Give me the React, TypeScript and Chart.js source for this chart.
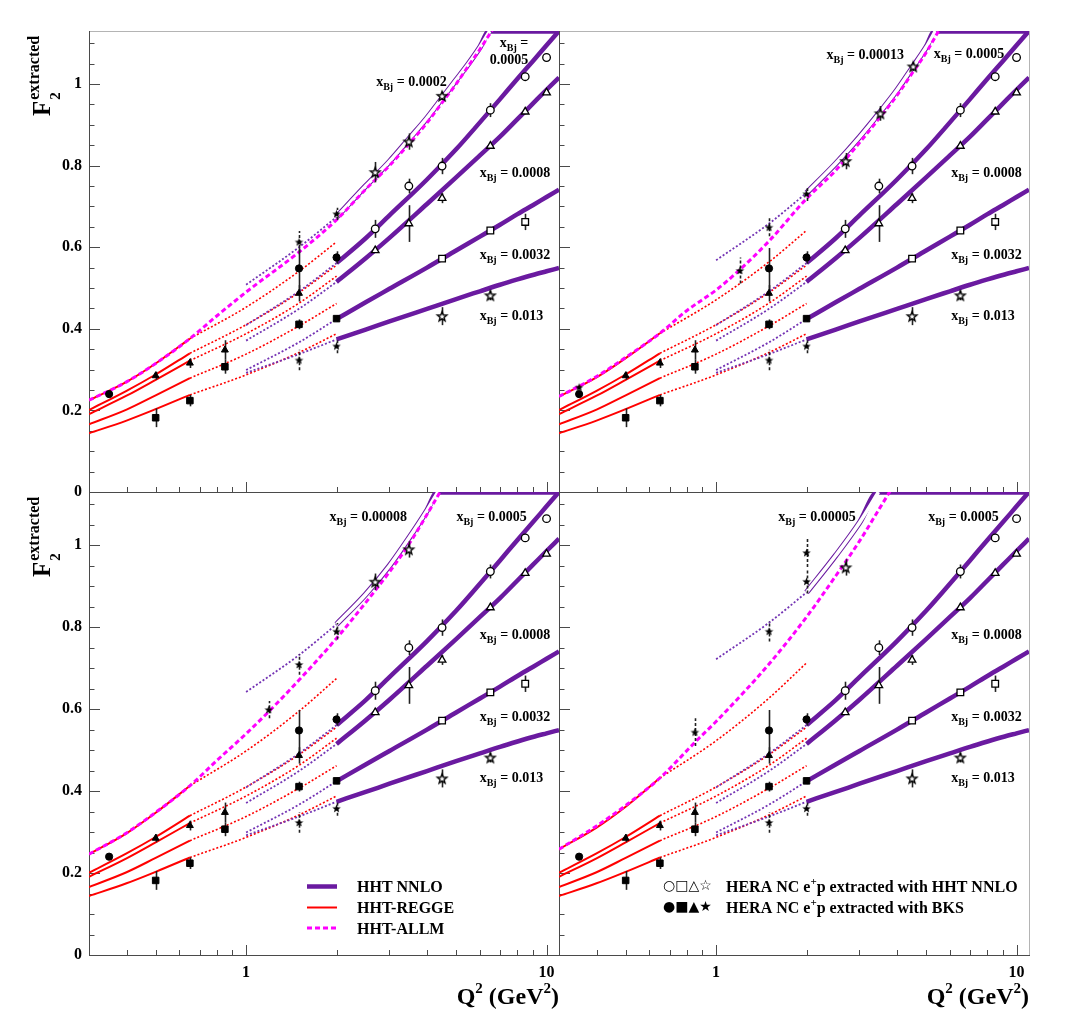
import React, { useEffect, useRef } from 'react';
import { Chart, registerables } from 'chart.js';

Chart.register(...registerables);

/* ---------------- axes ---------------- */
const X_MIN = 0.3;
const X_MAX = 11;
const Y_MIN = 0;
const Y_MAX = 1.13;
const X_MAJOR = [1, 10];
const X_LABELS = ['1', '10'];
const X_MINOR = [0.3, 0.4, 0.5, 0.6, 0.7, 0.8, 0.9, 2, 3, 4, 5, 6, 7, 8, 9];
const Y_MAJOR = [0, 0.2, 0.4, 0.6, 0.8, 1];
const Y_LABELS = ['0', '0.2', '0.4', '0.6', '0.8', '1'];
const Y_MINOR = [0.05, 0.1, 0.15, 0.25, 0.3, 0.35, 0.45, 0.5, 0.55, 0.65, 0.7, 0.75, 0.85, 0.9, 0.95, 1.05, 1.1];

/* ---------------- common curves ---------------- */
// HHT NNLO (solid, Q^2 >= 2)
const Q_NNLO = [2, 2.5, 3, 4, 5, 6, 7, 8, 9, 10, 11];
const NNLO_X0005 = [0.561, 0.622, 0.678, 0.766, 0.84, 0.906, 0.963, 1.013, 1.056, 1.095, 1.13];
const NNLO_X0008 = [0.515, 0.573, 0.623, 0.706, 0.771, 0.825, 0.871, 0.914, 0.952, 0.986, 1.016];
const NNLO_X0032 = [0.424, 0.465, 0.498, 0.55, 0.592, 0.626, 0.655, 0.681, 0.703, 0.723, 0.741];
const NNLO_X013 = [0.374, 0.398, 0.418, 0.449, 0.473, 0.492, 0.508, 0.521, 0.532, 0.541, 0.549];
// HHT NNLO dotted extension (1 <= Q^2 <= 2)
const Q_NNLO_EXT = [1, 1.5, 2];
const NNLO_EXT_X0005 = [0.409, 0.492, 0.561];
const NNLO_EXT_X0008 = [0.371, 0.449, 0.515];
const NNLO_EXT_X0032 = [0.299, 0.367, 0.424];
const NNLO_EXT_X013 = [0.292, 0.338, 0.374];
// HHT-REGGE solid (Q^2 <= 0.65) and dotted extension
const Q_REGGE = [0.3, 0.4, 0.5, 0.65];
const REGGE_2 = [0.201, 0.248, 0.288, 0.34];
const REGGE_3 = [0.191, 0.236, 0.275, 0.322];
const REGGE_4 = [0.166, 0.202, 0.237, 0.279];
const REGGE_5 = [0.144, 0.175, 0.203, 0.238];
const Q_REGGE_EXT = [0.65, 1, 1.5, 2];
const REGGE_EXT_2 = [0.34, 0.41, 0.489, 0.556];
const REGGE_EXT_3 = [0.322, 0.388, 0.463, 0.529];
const REGGE_EXT_4 = [0.279, 0.338, 0.407, 0.462];
const REGGE_EXT_5 = [0.238, 0.287, 0.342, 0.388];

/* ---------------- common points ---------------- */
// BKS-extracted (filled)
const Q_BKS_CIRCLE = [0.35, 1.5, 2];
const F_BKS_CIRCLE = [0.24, 0.548, 0.575];
const E_BKS_CIRCLE = [0.004, 0.05, 0.015];
const Q_BKS_TRI = [0.5, 0.65, 0.85, 1.5];
const F_BKS_TRI = [0.285, 0.316, 0.348, 0.487];
const E_BKS_TRI = [0.01, 0.012, 0.024, 0.02];
const Q_BKS_SQ = [0.5, 0.65, 0.85, 1.5, 2];
const F_BKS_SQ = [0.182, 0.224, 0.307, 0.411, 0.425];
const E_BKS_SQ = [0.023, 0.014, 0.017, 0.012, 0.008];
const Q_BKS_STAR = [1.5, 2];
const F_BKS_STAR = [0.3235, 0.358];
const E_BKS_STAR = [0.025, 0.018];
// HHT NNLO-extracted (open)
const Q_NN_CIRCLE = [2.69, 3.48, 4.49, 6.5, 8.49, 10];
const F_NN_CIRCLE = [0.645, 0.75, 0.799, 0.936, 1.018, 1.065];
const E_NN_CIRCLE = [0.022, 0.018, 0.02, 0.017, 0.006, 0.006];
const Q_NN_TRI = [2.69, 3.48, 4.49, 6.5, 8.49, 10];
const F_NN_TRI = [0.592, 0.658, 0.72, 0.848, 0.932, 0.979];
const E_NN_TRI = [0.006, 0.045, 0.012, 0.006, 0.006, 0.006];
const Q_NN_SQ = [4.49, 6.5, 8.49];
const F_NN_SQ = [0.572, 0.641, 0.662];
const E_NN_SQ = [0.006, 0.006, 0.02];
const Q_NN_STAR = [4.49, 6.5];
const F_NN_STAR = [0.431, 0.482];
const E_NN_STAR = [0.022, 0.012];

/* ---------------- panel-specific (smallest x_Bj) ---------------- */
// top-left: x_Bj = 0.0002
const REGGE_1_TL = [0.225, 0.27, 0.315, 0.376];
const REGGE_EXT_1_TL = [0.376, 0.453, 0.541, 0.613];
const Q_ALLM_TL = [0.3, 0.4, 0.5, 0.65, 0.8, 1, 1.5, 2, 2.5, 3, 3.5, 4, 4.5, 5, 5.5, 6, 6.5, 7];
const ALLM_TL = [0.225, 0.27, 0.315, 0.376, 0.432, 0.49, 0.588, 0.667, 0.742, 0.8, 0.855, 0.905, 0.955, 1.0, 1.045, 1.085, 1.125, 1.16];
const Q_LOWX_TL = [2, 2.5, 3, 3.5, 4, 4.5, 5, 5.5, 6, 6.47, 11];
const NNLO_LOWX_TL = [0.674, 0.75, 0.81, 0.867, 0.917, 0.966, 1.01, 1.05, 1.09, 1.13, 1.13];
const NNLO_EXT_LOWX_TL = [0.508, 0.6, 0.674];
const Q_STAR_BKS_TL = [1.5, 2];
const F_STAR_BKS_TL = [0.613, 0.682];
const E_STAR_BKS_TL = [0.027, 0.015];
const Q_STAR_NN_TL = [2.69, 3.48, 4.49];
const F_STAR_NN_TL = [0.784, 0.859, 0.971];
const E_STAR_NN_TL = [0.025, 0.02, 0.01];

// top-right: x_Bj = 0.00013
const REGGE_1_TR = [0.234, 0.281, 0.328, 0.389];
const REGGE_EXT_1_TR = [0.389, 0.471, 0.564, 0.641];
const Q_ALLM_TR = [0.3, 0.4, 0.5, 0.65, 0.8, 1, 1.2, 1.5, 2, 2.5, 3, 3.5, 4, 4.5, 5, 5.5, 6];
const ALLM_TR = [0.234, 0.283, 0.33, 0.389, 0.445, 0.495, 0.545, 0.615, 0.719, 0.788, 0.856, 0.917, 0.972, 1.027, 1.077, 1.13, 1.18];
const Q_LOWX_TR = [2, 2.5, 3, 3.5, 4, 4.5, 5, 5.37, 11];
const NNLO_LOWX_TR = [0.733, 0.805, 0.87, 0.93, 0.985, 1.04, 1.09, 1.13, 1.13];
const NNLO_EXT_LOWX_TR = [0.568, 0.658, 0.733];
const Q_STAR_BKS_TR = [0.35, 1.2, 1.5, 2];
const F_STAR_BKS_TR = [0.257, 0.543, 0.649, 0.731];
const E_STAR_BKS_TR = [0.005, 0.032, 0.022, 0.018];
const Q_STAR_NN_TR = [2.7, 3.52, 4.53];
const F_STAR_NN_TR = [0.811, 0.928, 1.043];
const E_STAR_NN_TR = [0.02, 0.018, 0.01];

// bottom-left: x_Bj = 0.00008
const REGGE_1_BL = [0.246, 0.297, 0.347, 0.413];
const REGGE_EXT_1_BL = [0.413, 0.498, 0.595, 0.675];
const Q_ALLM_BL = [0.3, 0.4, 0.5, 0.65, 0.8, 1, 1.25, 1.5, 2, 2.5, 3, 3.5, 4, 4.5];
const ALLM_BL = [0.246, 0.298, 0.348, 0.413, 0.475, 0.54, 0.61, 0.671, 0.773, 0.86, 0.935, 1.005, 1.075, 1.14];
const Q_LOWX_BL = [2, 2.5, 3, 3.5, 4, 4.35, 11];
const NNLO_LOWX_BL = [0.807, 0.88, 0.95, 1.02, 1.085, 1.13, 1.13];
const NNLO_EXT_LOWX_BL = [0.642, 0.732, 0.807];
const Q_STAR_BKS_BL = [1.19, 1.5, 2];
const F_STAR_BKS_BL = [0.599, 0.709, 0.79];
const E_STAR_BKS_BL = [0.021, 0.025, 0.02];
const Q_STAR_NN_BL = [2.69, 3.48];
const F_STAR_NN_BL = [0.911, 0.99];
const E_STAR_NN_BL = [0.02, 0.02];

// bottom-right: x_Bj = 0.00005
const REGGE_1_BR = [0.258, 0.311, 0.362, 0.432];
const REGGE_EXT_1_BR = [0.432, 0.523, 0.627, 0.713];
const Q_ALLM_BR = [0.3, 0.4, 0.5, 0.65, 0.85, 1, 1.25, 1.5, 2, 2.5, 3, 3.5, 4];
const ALLM_BR = [0.258, 0.315, 0.365, 0.432, 0.519, 0.57, 0.645, 0.71, 0.825, 0.925, 1.01, 1.09, 1.16];
const Q_LOWX_BR = [2, 2.5, 3, 3.47, 11];
const NNLO_LOWX_BR = [0.885, 0.975, 1.055, 1.13, 1.13];
const NNLO_EXT_LOWX_BR = [0.722, 0.811, 0.885];
const Q_STAR_BKS_BR = [0.85, 1.5, 2, 2];
const F_STAR_BKS_BR = [0.544, 0.79, 0.912, 0.982];
const E_STAR_BKS_BR = [0.034, 0.025, 0.03, 0.035];
const Q_STAR_NN_BR = [2.7];
const F_STAR_NN_BR = [0.946];
const E_STAR_NN_BR = [0.02];

/* ---------------- annotations (text) ---------------- */
const LABELS_TL = [
  { q: 2.71, f: 1.008, value: '0.0002' },
  { q: 6.99, f: 1.102, value: '' },
  { q: 6.47, f: 1.061, plain: '0.0005' },
  { q: 5.99, f: 0.784, value: '0.0008' },
  { q: 5.99, f: 0.584, value: '0.0032' },
  { q: 5.99, f: 0.435, value: '0.013' },
];
const LABELS_TR = [
  { q: 2.33, f: 1.073, value: '0.00013' },
  { q: 5.3, f: 1.076, value: '0.0005' },
  { q: 6.06, f: 0.784, value: '0.0008' },
  { q: 6.06, f: 0.584, value: '0.0032' },
  { q: 6.06, f: 0.435, value: '0.013' },
];
const LABELS_BL = [
  { q: 1.896, f: 1.071, value: '0.00008' },
  { q: 5.01, f: 1.071, value: '0.0005' },
  { q: 5.99, f: 0.784, value: '0.0008' },
  { q: 5.99, f: 0.584, value: '0.0032' },
  { q: 5.99, f: 0.435, value: '0.013' },
];
const LABELS_BR = [
  { q: 1.61, f: 1.071, value: '0.00005' },
  { q: 5.08, f: 1.071, value: '0.0005' },
  { q: 6.06, f: 0.784, value: '0.0008' },
  { q: 6.06, f: 0.584, value: '0.0032' },
  { q: 6.06, f: 0.435, value: '0.013' },
];

const LEGEND_LINES = ['HHT NNLO', 'HHT-REGGE', 'HHT-ALLM'];
const LEGEND_OPEN_SYMBOLS = '○□△☆';
const LEGEND_FILLED_SYMBOLS = '●■▲★';
const LEGEND_MARKER_TEXT = ['p extracted with HHT NNLO', 'p extracted with BKS'];

/* ---------------- styling / layout ---------------- */
const PAGE_W = 1078;
const PAGE_H = 1022;
const SERIF = '"Liberation Serif", "Times New Roman", serif';
const SYMBOL_FONT = '"DejaVu Sans", sans-serif';
const PURPLE = '#6a1aa0';
const PURPLE_DOT = '#7434b4';
const RED = '#ff0000';
const MAGENTA = '#ff00ff';
const AXIS_COLOR = '#4a4a4a';
const FRAME_COLOR = '#b4b4b4';

const PANELS = [
  {
    box: { left: 89, top: 31, right: 559, bottom: 492 }, showX: false, showY: true, frameTop: true, frameRight: false, legend: null,
    regge1: REGGE_1_TL, reggeExt1: REGGE_EXT_1_TL, allmQ: Q_ALLM_TL, allm: ALLM_TL, lowQ: Q_LOWX_TL, low: NNLO_LOWX_TL, lowExt: NNLO_EXT_LOWX_TL,
    sbQ: Q_STAR_BKS_TL, sbF: F_STAR_BKS_TL, sbE: E_STAR_BKS_TL, snQ: Q_STAR_NN_TL, snF: F_STAR_NN_TL, snE: E_STAR_NN_TL, labels: LABELS_TL,
  },
  {
    box: { left: 559, top: 31, right: 1029, bottom: 492 }, showX: false, showY: false, frameTop: true, frameRight: true, legend: null,
    regge1: REGGE_1_TR, reggeExt1: REGGE_EXT_1_TR, allmQ: Q_ALLM_TR, allm: ALLM_TR, lowQ: Q_LOWX_TR, low: NNLO_LOWX_TR, lowExt: NNLO_EXT_LOWX_TR,
    sbQ: Q_STAR_BKS_TR, sbF: F_STAR_BKS_TR, sbE: E_STAR_BKS_TR, snQ: Q_STAR_NN_TR, snF: F_STAR_NN_TR, snE: E_STAR_NN_TR, labels: LABELS_TR,
  },
  {
    box: { left: 89, top: 492, right: 559, bottom: 955 }, showX: true, showY: true, frameTop: false, frameRight: false, legend: 'lines',
    regge1: REGGE_1_BL, reggeExt1: REGGE_EXT_1_BL, allmQ: Q_ALLM_BL, allm: ALLM_BL, lowQ: Q_LOWX_BL, low: NNLO_LOWX_BL, lowExt: NNLO_EXT_LOWX_BL,
    sbQ: Q_STAR_BKS_BL, sbF: F_STAR_BKS_BL, sbE: E_STAR_BKS_BL, snQ: Q_STAR_NN_BL, snF: F_STAR_NN_BL, snE: E_STAR_NN_BL, labels: LABELS_BL,
  },
  {
    box: { left: 559, top: 492, right: 1029, bottom: 955 }, showX: true, showY: false, frameTop: false, frameRight: true, legend: 'markers',
    regge1: REGGE_1_BR, reggeExt1: REGGE_EXT_1_BR, allmQ: Q_ALLM_BR, allm: ALLM_BR, lowQ: Q_LOWX_BR, low: NNLO_LOWX_BR, lowExt: NNLO_EXT_LOWX_BR,
    sbQ: Q_STAR_BKS_BR, sbF: F_STAR_BKS_BR, sbE: E_STAR_BKS_BR, snQ: Q_STAR_NN_BR, snF: F_STAR_NN_BR, snE: E_STAR_NN_BR, labels: LABELS_BR,
  },
];

/* ---------------- helpers ---------------- */
function makeStar(outer: number, filled: boolean) {
  const size = Math.ceil(outer * 2 + 4);
  const c = document.createElement('canvas');
  c.width = size;
  c.height = size;
  const g = c.getContext('2d') as CanvasRenderingContext2D;
  const cx = size / 2;
  const cy = size / 2 + outer * 0.1;
  const inner = outer * 0.42;
  g.beginPath();
  for (let k = 0; k < 10; k++) {
    const r = k % 2 === 0 ? outer : inner;
    const a = -Math.PI / 2 + (k * Math.PI) / 5;
    const px = cx + r * Math.cos(a);
    const py = cy + r * Math.sin(a);
    if (k === 0) g.moveTo(px, py);
    else g.lineTo(px, py);
  }
  g.closePath();
  if (filled) {
    g.fillStyle = '#000';
    g.fill();
  } else {
    g.fillStyle = '#fff';
    g.fill();
    g.strokeStyle = '#000';
    g.lineJoin = 'miter';
    g.lineWidth = 1.4;
    g.stroke();
  }
  return c;
}

function curve(qs: number[], fs: number[], color: string, width: number, dash: number[], order: number) {
  return {
    data: qs.map((q, i) => ({ x: q, y: fs[i] })),
    borderColor: color,
    backgroundColor: color,
    borderWidth: width,
    borderDash: dash,
    borderCapStyle: 'butt',
    pointRadius: 0,
    pointHoverRadius: 0,
    fill: false,
    tension: 0.4,
    cubicInterpolationMode: 'monotone',
    order,
  };
}

function pts(qs: number[], fs: number[], es: number[], style: any, radius: number, open: boolean, errDash: number[] = []) {
  return {
    data: qs.map((q, i) => ({ x: q, y: fs[i] })),
    errors: es,
    errorDash: errDash,
    showLine: false,
    pointStyle: style,
    pointRadius: radius,
    pointHoverRadius: radius,
    pointBackgroundColor: open ? '#fff' : '#000',
    pointBorderColor: '#000',
    pointBorderWidth: open ? 1.3 : 1,
    borderColor: '#000',
    backgroundColor: '#000',
    order: 0,
  };
}

function drawParts(ctx: CanvasRenderingContext2D, x: number, y: number, parts: any[], align: string) {
  const widths = parts.map((p) => {
    ctx.font = `bold ${p.s}px ${SERIF}`;
    return ctx.measureText(p.t).width;
  });
  const total = widths.reduce((a, b) => a + b, 0);
  let cx = align === 'right' ? x - total : x;
  ctx.textAlign = 'left';
  parts.forEach((p, i) => {
    ctx.font = `bold ${p.s}px ${SERIF}`;
    ctx.fillText(p.t, cx, y + (p.dy || 0));
    cx += widths[i];
  });
}

function hline(ctx: CanvasRenderingContext2D, x0: number, y0: number, x1: number, y1: number) {
  ctx.beginPath();
  ctx.moveTo(x0, y0);
  ctx.lineTo(x1, y1);
  ctx.stroke();
}

const framePlugin = {
  id: 'frame',
  beforeDatasetsDraw(chart: any, _args: any, opts: any) {
    const { ctx, chartArea: a } = chart;
    const xs = chart.scales.x;
    const ys = chart.scales.y;
    ctx.save();
    ctx.lineWidth = 1;
    ctx.strokeStyle = FRAME_COLOR;
    if (opts.top) hline(ctx, a.left, a.top + 0.5, a.right + 1, a.top + 0.5);
    if (opts.right) hline(ctx, a.right + 0.5, a.top, a.right + 0.5, a.bottom);
    ctx.strokeStyle = AXIS_COLOR;
    hline(ctx, a.left + 0.5, a.top, a.left + 0.5, a.bottom + 1);
    hline(ctx, a.left, a.bottom + 0.5, a.right + 1, a.bottom + 0.5);
    Y_MAJOR.forEach((v) => {
      const y = Math.round(ys.getPixelForValue(v)) + 0.5;
      hline(ctx, a.left, y, a.left + 11, y);
    });
    Y_MINOR.forEach((v) => {
      const y = Math.round(ys.getPixelForValue(v)) + 0.5;
      hline(ctx, a.left, y, a.left + 5.5, y);
    });
    X_MAJOR.forEach((v) => {
      const x = Math.round(xs.getPixelForValue(v)) + 0.5;
      hline(ctx, x, a.bottom + 0.5, x, a.bottom - 10);
    });
    X_MINOR.forEach((v) => {
      const x = Math.round(xs.getPixelForValue(v)) + 0.5;
      hline(ctx, x, a.bottom + 0.5, x, a.bottom - 5);
    });
    ctx.restore();
  },
};

const errorBarPlugin = {
  id: 'errbars',
  beforeDatasetDraw(chart: any, args: any) {
    const ds: any = chart.data.datasets[args.index];
    if (!ds.errors) return;
    const { ctx, chartArea: a } = chart;
    const xs = chart.scales.x;
    const ys = chart.scales.y;
    ctx.save();
    ctx.beginPath();
    ctx.rect(a.left, a.top, a.right - a.left, a.bottom - a.top);
    ctx.clip();
    ctx.strokeStyle = '#222';
    ctx.lineWidth = 1.6;
    ctx.setLineDash(ds.errorDash || []);
    ds.data.forEach((p: any, i: number) => {
      const e = ds.errors[i];
      const x = Math.round(xs.getPixelForValue(p.x)) + 0.5;
      hline(ctx, x, ys.getPixelForValue(p.y - e), x, ys.getPixelForValue(p.y + e));
    });
    ctx.restore();
  },
};

const textPlugin = {
  id: 'panelText',
  afterDraw(chart: any, _args: any, opts: any) {
    const { ctx, chartArea: a } = chart;
    const xs = chart.scales.x;
    const ys = chart.scales.y;
    ctx.save();
    ctx.fillStyle = '#000';
    ctx.textBaseline = 'alphabetic';
    (opts.labels || []).forEach((l: any) => {
      const x = xs.getPixelForValue(l.q);
      const y = ys.getPixelForValue(l.f) + 5;
      const parts = l.plain
        ? [{ t: l.plain, s: 14 }]
        : [{ t: 'x', s: 14 }, { t: 'Bj', s: 10, dy: 4 }, { t: l.value ? ' = ' + l.value : ' =', s: 14 }];
      drawParts(ctx, x, y, parts, 'left');
    });
    if (opts.yTitle) {
      ctx.save();
      ctx.translate(50, a.top + 85);
      ctx.rotate(-Math.PI / 2);
      ctx.textAlign = 'left';
      ctx.font = `bold 25px ${SERIF}`;
      ctx.fillText('F', 0, 0);
      const w = ctx.measureText('F').width + 1;
      ctx.font = `bold 15px ${SERIF}`;
      ctx.fillText('2', w, 10);
      ctx.font = `bold 16px ${SERIF}`;
      ctx.fillText('extracted', w, -11);
      ctx.restore();
    }
    if (opts.xTitle) {
      drawParts(
        ctx, a.right, 1004,
        [{ t: 'Q', s: 24 }, { t: '2', s: 15, dy: -11 }, { t: ' (GeV', s: 24 }, { t: '2', s: 15, dy: -11 }, { t: ')', s: 24 }],
        'right',
      );
    }
    if (opts.legend === 'lines') {
      const rows = [886.5, 907.5, 928];
      const styles = [
        { c: PURPLE, w: 4.5, d: [] },
        { c: RED, w: 2, d: [] },
        { c: MAGENTA, w: 3, d: [5, 3] },
      ];
      LEGEND_LINES.forEach((label, i) => {
        ctx.strokeStyle = styles[i].c;
        ctx.lineWidth = styles[i].w;
        ctx.setLineDash(styles[i].d);
        hline(ctx, 307, rows[i], 337, rows[i]);
        ctx.setLineDash([]);
        drawParts(ctx, 357, rows[i] + 5.5, [{ t: label, s: 16 }], 'left');
      });
    }
    if (opts.legend === 'markers') {
      const rows = [886, 907];
      [LEGEND_OPEN_SYMBOLS, LEGEND_FILLED_SYMBOLS].forEach((sym, i) => {
        ctx.font = `14px ${SYMBOL_FONT}`;
        ctx.textAlign = 'left';
        ctx.textBaseline = 'middle';
        ctx.fillText(sym, 663, rows[i]);
        ctx.textBaseline = 'alphabetic';
        drawParts(ctx, 726, rows[i] + 5.5, [{ t: 'HERA NC e', s: 16 }, { t: '+', s: 11, dy: -7 }, { t: LEGEND_MARKER_TEXT[i], s: 16 }], 'left');
      });
    }
    ctx.restore();
  },
};

function buildConfig(p: any, starF: any, starO: any) {
  const datasets: any[] = [
    pts(Q_NN_CIRCLE, F_NN_CIRCLE, E_NN_CIRCLE, 'circle', 3.8, true),
    pts(Q_NN_TRI, F_NN_TRI, E_NN_TRI, 'triangle', 4.4, true),
    pts(Q_NN_SQ, F_NN_SQ, E_NN_SQ, 'rect', 4.7, true),
    pts(Q_NN_STAR, F_NN_STAR, E_NN_STAR, starO, 5, true),
    pts(p.snQ, p.snF, p.snE, starO, 5, true),
    pts(Q_BKS_CIRCLE, F_BKS_CIRCLE, E_BKS_CIRCLE, 'circle', 3.6, false),
    pts(Q_BKS_TRI, F_BKS_TRI, E_BKS_TRI, 'triangle', 4, false),
    pts(Q_BKS_SQ, F_BKS_SQ, E_BKS_SQ, 'rect', 4.6, false),
    pts(Q_BKS_STAR, F_BKS_STAR, E_BKS_STAR, starF, 4.5, false, [3, 2]),
    pts(p.sbQ, p.sbF, p.sbE, starF, 4.5, false, [3, 2]),
    curve(p.allmQ, p.allm, MAGENTA, 3, [5, 3], 1),
    curve(p.lowQ.slice(0, -1), p.low.slice(0, -1), '#ffffff', 3.6, [], 2),
    curve(p.lowQ, p.low, PURPLE, 5.6, [], 3),
    curve(Q_NNLO, NNLO_X0005, PURPLE, 4.5, [], 4),
    curve(Q_NNLO, NNLO_X0008, PURPLE, 4.5, [], 4),
    curve(Q_NNLO, NNLO_X0032, PURPLE, 4.5, [], 4),
    curve(Q_NNLO, NNLO_X013, PURPLE, 4.5, [], 4),
    curve(Q_NNLO_EXT, p.lowExt, PURPLE_DOT, 1.8, [2, 2], 5),
    curve(Q_NNLO_EXT, NNLO_EXT_X0005, PURPLE_DOT, 1.8, [2, 2], 5),
    curve(Q_NNLO_EXT, NNLO_EXT_X0008, PURPLE_DOT, 1.8, [2, 2], 5),
    curve(Q_NNLO_EXT, NNLO_EXT_X0032, PURPLE_DOT, 1.8, [2, 2], 5),
    curve(Q_NNLO_EXT, NNLO_EXT_X013, PURPLE_DOT, 1.8, [2, 2], 5),
    curve(Q_REGGE, p.regge1, RED, 2, [], 6),
    curve(Q_REGGE, REGGE_2, RED, 2, [], 6),
    curve(Q_REGGE, REGGE_3, RED, 2, [], 6),
    curve(Q_REGGE, REGGE_4, RED, 2, [], 6),
    curve(Q_REGGE, REGGE_5, RED, 2, [], 6),
    curve(Q_REGGE_EXT, p.reggeExt1, RED, 1.6, [2, 2], 6),
    curve(Q_REGGE_EXT, REGGE_EXT_2, RED, 1.6, [2, 2], 6),
    curve(Q_REGGE_EXT, REGGE_EXT_3, RED, 1.6, [2, 2], 6),
    curve(Q_REGGE_EXT, REGGE_EXT_4, RED, 1.6, [2, 2], 6),
    curve(Q_REGGE_EXT, REGGE_EXT_5, RED, 1.6, [2, 2], 6),
  ];
  const tickFont = { family: SERIF, size: 16, weight: 'bold' };
  // The axis boxes take the label strip (labels are clipped to their box).
  const yAxisWidth = p.showY ? p.box.left : 0;
  const xAxisHeight = p.showX ? PAGE_H - p.box.bottom : 0;
  return {
    type: 'line',
    data: { datasets },
    options: {
      responsive: false,
      animation: false,
      events: [],
      layout: {
        padding: {
          left: p.box.left - yAxisWidth,
          top: p.box.top,
          right: PAGE_W - p.box.right,
          bottom: PAGE_H - p.box.bottom - xAxisHeight,
        },
      },
      plugins: {
        legend: { display: false },
        tooltip: { enabled: false },
        frame: { top: p.frameTop, right: p.frameRight },
        panelText: { labels: p.labels, yTitle: p.showY, xTitle: p.showX, legend: p.legend },
      },
      scales: {
        x: {
          type: 'logarithmic',
          position: 'bottom',
          min: X_MIN,
          max: X_MAX,
          grid: { display: false, drawTicks: false },
          border: { display: false },
          afterBuildTicks: (s: any) => { s.ticks = X_MAJOR.map((v) => ({ value: v })); },
          afterFit: (s: any) => { s.height = xAxisHeight; },
          ticks: {
            display: p.showX, autoSkip: false, maxRotation: 0, minRotation: 0, padding: 8, color: '#000', font: tickFont,
            callback: (_v: any, i: number) => X_LABELS[i],
          },
        },
        y: {
          type: 'linear',
          position: 'left',
          min: Y_MIN,
          max: Y_MAX,
          grid: { display: false, drawTicks: false },
          border: { display: false },
          afterBuildTicks: (s: any) => { s.ticks = Y_MAJOR.map((v) => ({ value: v })); },
          afterFit: (s: any) => { s.width = yAxisWidth; },
          ticks: {
            display: p.showY, autoSkip: false, padding: 7, color: '#000', font: tickFont,
            callback: (_v: any, i: number) => Y_LABELS[i],
          },
        },
      },
    },
    plugins: [framePlugin, errorBarPlugin, textPlugin],
  };
}

export default function App() {
  const r0 = useRef<HTMLCanvasElement>(null);
  const r1 = useRef<HTMLCanvasElement>(null);
  const r2 = useRef<HTMLCanvasElement>(null);
  const r3 = useRef<HTMLCanvasElement>(null);
  const refs = [r0, r1, r2, r3];

  useEffect(() => {
    const starF = makeStar(4.5, true);
    const starO = makeStar(5, false);
    const charts = PANELS.map((p, i) => new Chart(refs[i].current as HTMLCanvasElement, buildConfig(p, starF, starO) as any));
    return () => charts.forEach((c) => c.destroy());
  }, []);

  return (
    <div style={{ position: 'absolute', left: 0, top: 0, width: PAGE_W, height: PAGE_H, background: '#fff', overflow: 'hidden' }}>
      {refs.map((r, i) => (
        <canvas
          key={i}
          ref={r}
          width={PAGE_W}
          height={PAGE_H}
          style={{ position: 'absolute', left: 0, top: 0, width: PAGE_W, height: PAGE_H }}
        />
      ))}
    </div>
  );
}
